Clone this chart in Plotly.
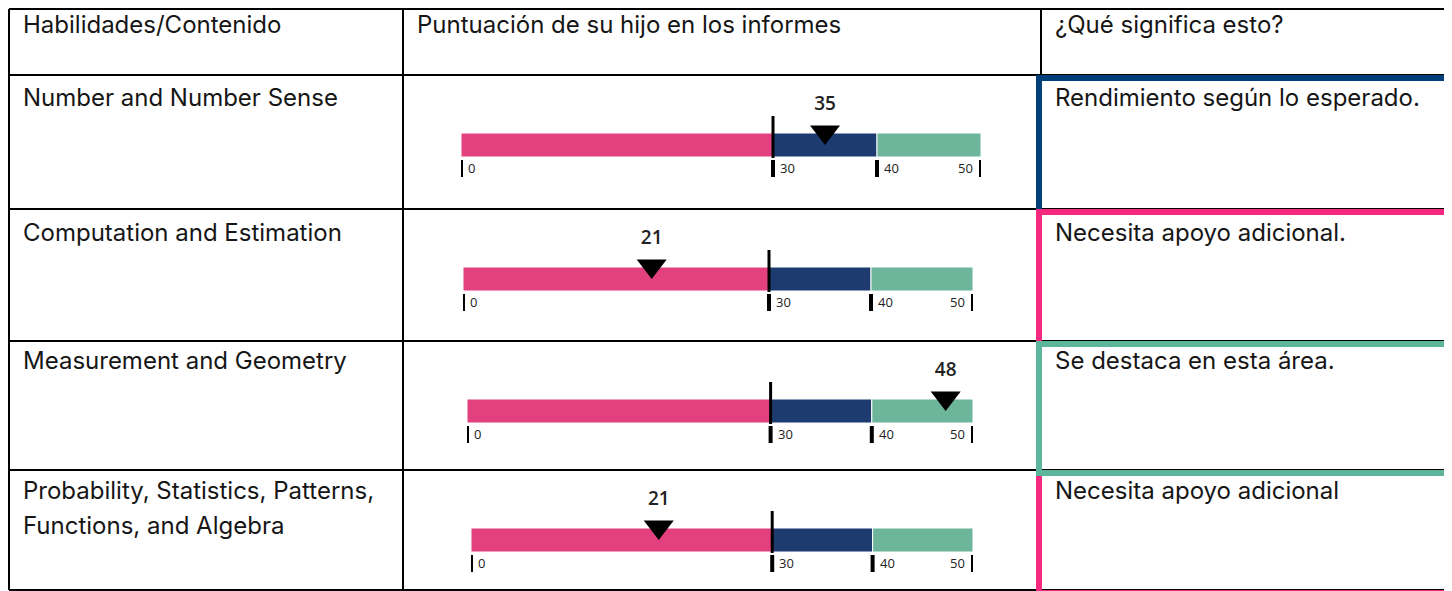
import plotly.graph_objects as go

# ---------------- data ----------------
headers = ["Habilidades/Contenido", "Puntuación de su hijo en los informes", "¿Qué significa esto?"]
skills = [
    "Number and Number Sense",
    "Computation and Estimation",
    "Measurement and Geometry",
    "Probability, Statistics, Patterns,<br>Functions, and Algebra",
]
scores = [35, 21, 48, 21]                   # printed score labels
marker_pos = [35.0, 18.5, 47.3, 18.7]       # where the pointer sits on each scale
meanings = [
    "Rendimiento según lo esperado.",
    "Necesita apoyo adicional.",
    "Se destaca en esta área.",
    "Necesita apoyo adicional",
]
band_edges = [0, 30, 40, 50]
tick_labels = ["0", "30", "40", "50"]
band_colors = ["#E2407E", "#1D3B6F", "#6DB59B"]
box_colors = ["#003F7A", "#F4297F", "#5DB69C", "#F4297F"]

# ---------------- layout (reference pixels) ----------------
# the page body has an 8px margin, so the figure is offset by 8px
OX, OY = 8, 8
FW, FH = 1444, 583
col_x = [9, 403, 1041, 1448]
row_y = [9, 75, 209, 341, 470, 590]
scale_x0 = [461, 463, 467, 471]
scale_x1 = [981, 973, 973, 973]
text_top = [17, 90, 225, 353, 483]
line_gap = 35

TABLE_FONT = "Inter"
TABLE_SIZE = 24
CHART_FONT = "Open Sans"


def px(x):
    return (x - OX) / FW


def py(y):
    return 1 - (y - OY) / FH


fig = go.Figure()
shapes = []
annotations = []

band_widths = [b - a for a, b in zip(band_edges[:-1], band_edges[1:])]
band_bases = band_edges[:-1]

for i, score in enumerate(scores):
    n = i + 1
    xa = "x" if n == 1 else f"x{n}"
    ya = "y" if n == 1 else f"y{n}"
    row_top, row_bot = row_y[i + 1], row_y[i + 2]
    row_h = row_bot - row_top

    fig.update_layout(**{
        ("xaxis" if n == 1 else f"xaxis{n}"): dict(
            domain=[px(scale_x0[i]), px(scale_x1[i])], range=[0, 50],
            visible=False, fixedrange=True, anchor=ya),
        ("yaxis" if n == 1 else f"yaxis{n}"): dict(
            domain=[py(row_bot), py(row_top)], range=[row_h, 0],
            visible=False, fixedrange=True, anchor=xa),
    })

    # colored bands
    fig.add_trace(go.Bar(
        x=band_widths, base=band_bases, y=[70] * len(band_widths),
        orientation="h", width=24,
        marker=dict(color=band_colors, line=dict(color="white", width=1)),
        xaxis=xa, yaxis=ya, showlegend=False, hoverinfo="skip"))

    # ticks under the bar
    for k, e in enumerate(band_edges):
        shapes.append(dict(type="line", xref=xa, yref=ya, x0=e, x1=e, y0=85, y1=102,
                           line=dict(color="black", width=4)))
        last = k == len(band_edges) - 1
        annotations.append(dict(
            x=e, y=93, xref=xa, yref=ya, text=tick_labels[k], showarrow=False,
            xanchor="right" if last else "left", xshift=-6 if last else 5,
            font=dict(family=CHART_FONT, size=13, color="#222222")))
    # tall tick at cut score
    shapes.append(dict(type="line", xref=xa, yref=ya, x0=band_edges[1], x1=band_edges[1],
                       y0=41, y1=83, line=dict(color="black", width=3)))

    # score marker and label
    fig.add_trace(go.Scatter(
        x=[marker_pos[i]], y=[57], mode="markers",
        marker=dict(symbol="triangle-down", size=26, color="black"),
        xaxis=xa, yaxis=ya, showlegend=False, hoverinfo="skip"))
    fig.add_trace(go.Scatter(
        x=[marker_pos[i]], y=[30], mode="text", text=[str(score)],
        textfont=dict(family=CHART_FONT, size=19, color="#222222", weight=600),
        xaxis=xa, yaxis=ya, showlegend=False, hoverinfo="skip"))

# ---------------- table grid ----------------
for y in row_y:
    shapes.append(dict(type="line", xref="paper", yref="paper",
                       x0=px(col_x[0]), x1=px(col_x[-1]), y0=py(y), y1=py(y),
                       line=dict(color="black", width=2)))
for x in col_x:
    shapes.append(dict(type="line", xref="paper", yref="paper",
                       x0=px(x), x1=px(x), y0=py(row_y[0]), y1=py(row_y[-1]),
                       line=dict(color="black", width=2)))

# colored boxes around meaning cells
for i in [0, 1, 3, 2]:
    y0 = row_y[i + 1] + 3
    y1 = row_y[i + 2] + 3
    shapes.append(dict(type="rect", xref="paper", yref="paper",
                       x0=px(1039), x1=px(1447), y0=py(y0), y1=py(y1),
                       line=dict(color=box_colors[i], width=6)))


# ---------------- text ----------------
def add_cell_text(x_left, caps_top, text):
    for li, line in enumerate(text.split("<br>")):
        annotations.append(dict(
            x=px(x_left), y=py(caps_top - 9 + li * line_gap), xref="paper", yref="paper",
            text=line, showarrow=False, xanchor="left", yanchor="top", align="left",
            font=dict(family=TABLE_FONT, size=TABLE_SIZE, color="#161616")))


for j, h in enumerate(headers):
    add_cell_text(col_x[j] + 12, text_top[0], h)

for i in range(len(skills)):
    add_cell_text(col_x[0] + 12, text_top[i + 1], skills[i])
    add_cell_text(col_x[2] + 12, text_top[i + 1], meanings[i])

fig.update_layout(
    width=FW, height=FH,
    margin=dict(l=0, r=0, t=0, b=0),
    paper_bgcolor="white", plot_bgcolor="rgba(0,0,0,0)",
    barmode="overlay", showlegend=False,
    shapes=shapes, annotations=annotations,
)

fig.write_html("out.html")
